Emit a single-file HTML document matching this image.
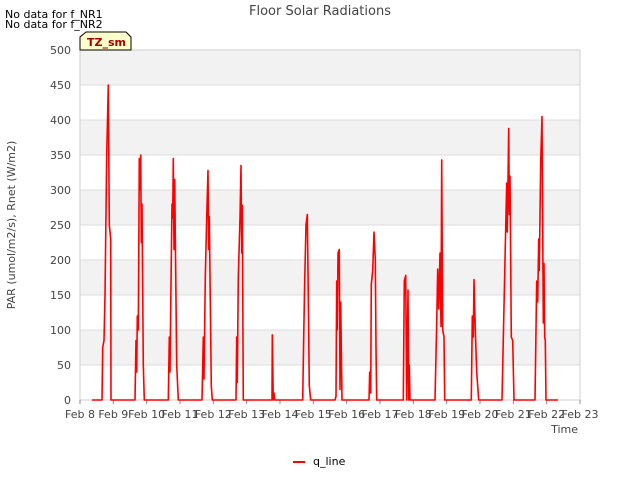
<!DOCTYPE html>
<html><head><meta charset="utf-8"><style>
body{margin:0;background:#fff;font-family:"Liberation Sans","DejaVu Sans",sans-serif}
svg text{font-family:"DejaVu Sans","Liberation Sans",sans-serif}
</style></head><body>
<svg id="chart" width="640" height="480" xmlns="http://www.w3.org/2000/svg">
<text x="320" y="15" text-anchor="middle" font-size="13" fill="#444">Floor Solar Radiations</text>
<text x="5" y="18" font-size="11" fill="#000">No data for f_NR1</text>
<text x="5" y="28" font-size="11" fill="#000">No data for f_NR2</text>
<g id="grid"></g>
<g id="axes"></g>
<path id="line" fill="none" stroke="#ff0000" stroke-width="1.6" stroke-linejoin="round"/>
<g>
<path d="M80,50 L80,37 L86,32 L126,32 L131,37 L131,50 Z" fill="#ffffcc" stroke="#000" stroke-width="1"/>
<text x="87" y="46" font-size="11" font-weight="bold" fill="#aa0000">TZ_sm</text>
</g>
<text x="15" y="225" font-size="11" fill="#444" text-anchor="middle" transform="rotate(-90 15 225)">PAR (umol/m2/s), Rnet (W/m2)</text>
<text x="578" y="433" font-size="11" fill="#444" text-anchor="end">Time</text>
<g>
<line x1="293" y1="462" x2="305" y2="462" stroke="#ff0000" stroke-width="2"/>
<text x="313" y="465" font-size="11" fill="#000">q_line</text>
</g>
</svg>
<script>
const xTicks=["Feb 8","Feb 9","Feb 10","Feb 11","Feb 12","Feb 13","Feb 14","Feb 15","Feb 16","Feb 17","Feb 18","Feb 19","Feb 20","Feb 21","Feb 22","Feb 23"];
const yTicks=[0,50,100,150,200,250,300,350,400,450,500];
const times=[0.36,0.66,0.68,0.72,0.75,0.8,0.85,0.88,0.92,0.93,
1.65,1.68,1.7,1.72,1.75,1.78,1.8,1.82,1.84,1.86,1.9,1.93,
2.65,2.68,2.7,2.72,2.76,2.78,2.8,2.82,2.84,2.9,2.95,
3.66,3.7,3.72,3.76,3.8,3.84,3.86,3.88,3.94,3.97,
4.68,4.7,4.72,4.75,4.8,4.83,4.85,4.87,4.9,
5.76,5.77,5.79,5.8,5.82,5.84,
6.68,6.71,6.74,6.78,6.82,6.84,6.88,6.92,
7.65,7.68,7.7,7.72,7.74,7.78,7.8,7.82,7.86,
8.67,8.69,8.72,8.74,8.78,8.82,8.86,8.88,8.9,
9.7,9.73,9.77,9.8,9.84,9.86,9.88,9.9,
10.65,10.7,10.73,10.76,10.8,10.83,10.85,10.88,10.92,10.94,
11.74,11.77,11.8,11.82,11.86,11.9,11.96,
12.66,12.75,12.8,12.82,12.86,12.88,12.9,12.94,12.98,13.02,
13.65,13.7,13.73,13.76,13.78,13.82,13.86,13.9,13.92,13.94,13.96,13.98,14.34];
const values=[0,0,75,85,150,350,450,250,230,0,
0,85,40,120,100,345,300,350,225,280,50,0,
0,90,40,130,280,260,345,215,315,50,0,
0,90,30,175,260,328,215,262,20,0,
0,90,25,175,260,335,210,278,0,
0,93,25,0,10,0,
0,90,170,250,265,185,20,0,
0,5,170,100,210,215,15,140,0,
0,40,10,165,185,240,200,75,0,
0,170,178,0,157,0,50,0,
0,110,187,130,210,105,343,100,90,0,
0,120,90,172,100,40,0,
0,200,310,240,388,265,320,90,85,0,
0,170,140,230,185,340,405,110,195,90,85,0,0];
const L=80,R=580,T=50,B=400;
const xs=d=>L+(R-L)*d/15, ys=v=>B-(B-T)*v/500;
const ns="http://www.w3.org/2000/svg";
const grid=document.getElementById('grid'), axes=document.getElementById('axes');
for(let i=0;i<10;i++){
 const r=document.createElementNS(ns,'rect');
 
 
 r.setAttribute('x',L);r.setAttribute('y',ys(yTicks[i+1]));r.setAttribute('width',R-L);r.setAttribute('height',ys(yTicks[i])-ys(yTicks[i+1]));
 r.setAttribute('fill',i%2?'#f2f2f2':'#ffffff');grid.appendChild(r);
}
yTicks.forEach(v=>{
 const l=document.createElementNS(ns,'line');
 
 
 l.setAttribute('x1',L);l.setAttribute('x2',R);l.setAttribute('y1',ys(v));l.setAttribute('y2',ys(v));l.setAttribute('stroke','#dcdcdc');grid.appendChild(l);
 const t=document.createElementNS(ns,'text');
 
 
 t.setAttribute('x',L-9);t.setAttribute('y',ys(v)+4);t.setAttribute('text-anchor','end');t.setAttribute('font-size','11');t.setAttribute('fill','#444');t.textContent=v;axes.appendChild(t);
});
const fr=document.createElementNS(ns,'rect');


fr.setAttribute('x',L);fr.setAttribute('y',T);fr.setAttribute('width',R-L);fr.setAttribute('height',B-T);fr.setAttribute('fill','none');fr.setAttribute('stroke','#d0d0d0');grid.appendChild(fr);
xTicks.forEach((s,i)=>{
 const l=document.createElementNS(ns,'line');
 
 
 l.setAttribute('x1',xs(i));l.setAttribute('x2',xs(i));l.setAttribute('y1',B);l.setAttribute('y2',B+4);l.setAttribute('stroke','#888');axes.appendChild(l);
 const t=document.createElementNS(ns,'text');
 
 
 t.setAttribute('x',xs(i));t.setAttribute('y',B+18);t.setAttribute('text-anchor','middle');t.setAttribute('font-size','11');t.setAttribute('fill','#444');t.textContent=s;axes.appendChild(t);
});
document.getElementById('line').setAttribute('d',times.map((d,i)=>(i?'L':'M')+xs(d).toFixed(1)+','+ys(values[i]).toFixed(1)).join(''));
</script>
</body></html>
